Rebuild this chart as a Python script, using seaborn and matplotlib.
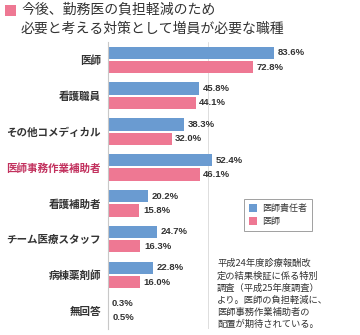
import matplotlib
matplotlib.use("Agg")
import matplotlib.pyplot as plt
import seaborn as sns
import pandas as pd
from matplotlib.patches import Rectangle, Patch

categories = ["医師", "看護職員", "その他コメディカル", "医師事務作業補助者",
              "看護補助者", "チーム医療スタッフ", "病棟薬剤師", "無回答"]
series_names = ["医師責任者", "医師"]
chief_values = [83.6, 45.8, 38.3, 52.4, 20.2, 24.7, 22.8, 0.3]
doctor_values = [72.8, 44.1, 32.0, 46.1, 15.8, 16.3, 16.0, 0.5]
title_lines = ["今後、勤務医の負担軽減のため", "必要と考える対策として増員が必要な職種"]
note_text = ("平成24年度診療報酬改\n定の結果検証に係る特別\n調査（平成25年度調査）\n"
             "より。医師の負担軽減に、\n医師事務作業補助者の\n配置が期待されている。")
highlight = "医師事務作業補助者"

BLUE = "#6a9bd1"
PINK = "#ee7893"
TXT = "#333333"
HL = "#c2315e"

sns.set_theme(style="white")
plt.rcParams['font.family'] = ['Noto Sans CJK JP', 'DejaVu Sans']

df = pd.DataFrame({
    "職種": categories * 2,
    "系列": [series_names[0]] * len(categories) + [series_names[1]] * len(categories),
    "値": chief_values + doctor_values,
})

fig = plt.figure(figsize=(3.6, 3.35), dpi=100)
W, H = 360, 335
ax_left, ax_right, ax_top, ax_bot = 108, 307, 42, 328.6
ax = fig.add_axes([ax_left / W, 1 - ax_bot / H, (ax_right - ax_left) / W, (ax_bot - ax_top) / H])

sns.barplot(data=df, y="職種", x="値", hue="系列", order=categories,
            hue_order=series_names, palette=[BLUE, PINK], orient="h",
            width=0.8, gap=0.14, ax=ax, legend=False, linewidth=0, saturation=1)

ax.set_xlim(0, 100)
ax.set_ylim(len(categories) - 0.5, -0.5)
ax.set_xlabel("")
ax.set_ylabel("")
ax.set_xticks([])
for s in ["top", "right", "bottom"]:
    ax.spines[s].set_visible(False)
ax.spines["left"].set_color("#c8c8c8")
ax.spines["left"].set_linewidth(0.8)

# grid lines
ax.axvline(50, color="#dddddd", lw=0.7, zorder=0)
ax.axvline(100, color="#dddddd", lw=0.7, ls=(0, (1, 1)), ymin=1 - (253 - ax_top) / (ax_bot - ax_top), ymax=1, zorder=0)

ax.tick_params(axis="y", length=0, pad=5)
ax.set_yticks(range(len(categories)))
ax.set_yticklabels(categories, fontsize=7.6, fontweight="bold", color=TXT)
for lbl in ax.get_yticklabels():
    if lbl.get_text() == highlight:
        lbl.set_color(HL)

# value labels
for container in ax.containers:
    ax.bar_label(container, labels=[f"{v:.1f}%" for v in container.datavalues],
                 padding=2.5, fontsize=6.8, fontweight="bold", color=TXT,
                 family=["Liberation Sans", "DejaVu Sans"])

# legend
handles = [Patch(facecolor=BLUE, edgecolor="none"), Patch(facecolor=PINK, edgecolor="none")]
leg = fig.legend(handles, series_names, loc="upper left",
                 bbox_to_anchor=(244 / W, 1 - 199 / H), bbox_transform=fig.transFigure,
                 fontsize=6.5, frameon=True, fancybox=False, borderaxespad=0,
                 handlelength=0.9, handleheight=0.9, handletextpad=0.6,
                 labelspacing=0.45, borderpad=0.55)
leg.get_frame().set_edgecolor("#888888")
leg.get_frame().set_linewidth(0.7)
for t in leg.get_texts():
    t.set_color(TXT)

# note text
fig.text(217 / W, 1 - 259 / H, note_text, ha="left", va="top", fontsize=6.7,
         color=TXT, linespacing=1.42)

# title
fig.patches.append(Rectangle((5 / W, 1 - 16 / H), 11 / W, 11 / H,
                             transform=fig.transFigure, facecolor=PINK, edgecolor="none"))
fig.text(21 / W, 1 - 10 / H, title_lines[0], ha="left", va="center", fontsize=10, color=TXT)
fig.text(21 / W, 1 - 29 / H, title_lines[1], ha="left", va="center", fontsize=10, color=TXT)

fig.savefig("out.png", dpi=100)
